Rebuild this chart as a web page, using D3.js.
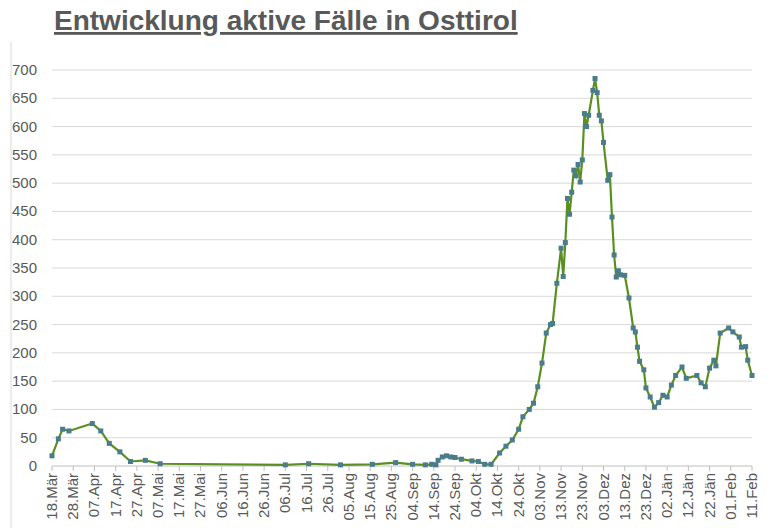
<!DOCTYPE html>
<html><head><meta charset="utf-8">
<script src="https://cdn.jsdelivr.net/npm/d3@7"></script>
<style>body{margin:0;background:#fff}text{font-family:Arial,"Liberation Sans",sans-serif}</style>
</head><body><div class="chart"></div>
<script>
// day offset from 18.Mär 2020 and active cases
const days = [0,3,5,8,19,23,27,32,37,44,51,110,121,136,151,162,170,176,179,181,182,184,186,188,190,193,198,201,
  204,207,211,214,217,220,222,225,227,229,231,233,235,236,238,240,241,242,243,244,245,246,247,248,249,250,251,252,253,
  255,256,257,258,259,260,262,263,264,265,266,267,268,270,272,274,275,276,277,279,280,282,284,286,288,290,292,294,
  297,299,304,306,308,310,312,313,315,319,321,324,325,327,328,330];
const values = [18,48,65,62,75,62,40,25,8,10,4,2,4,2,3,6,3,2,3,2,10,16,18,16,15,12,9,8,
  3,3,23,35,46,65,87,100,111,140,182,235,250,252,323,385,335,395,473,445,484,523,513,533,502,541,623,600,620,
  664,685,660,620,610,572,505,515,440,373,334,345,338,337,297,244,237,210,185,170,138,122,104,112,125,122,143,160,
  175,155,160,147,140,173,187,177,235,244,237,228,210,211,187,160];
const tickLabels = ['18.Mär','28.Mär','07.Apr','17.Apr','27.Apr','07.Mai','17.Mai','27.Mai','06.Jun','16.Jun','26.Jun',
  '06.Jul','16.Jul','26.Jul','05.Aug','15.Aug','25.Aug','04.Sep','14.Sep','24.Sep','04.Okt','14.Okt','24.Okt',
  '03.Nov','13.Nov','23.Nov','03.Dez','13.Dez','23.Dez','02.Jän','12.Jän','22.Jän','01.Feb','11.Feb'];
const yTicks = d3.range(0, 701, 50);

const W = 768, H = 528;
const svg = d3.select('.chart').append('svg').attr('width', W).attr('height', H);

svg.append('text').attr('x', 54).attr('y', 30).attr('font-size', 28).attr('font-weight', 'bold')
  .attr('fill', '#595959').attr('text-decoration', 'underline').text('Entwicklung aktive Fälle in Osttirol');

svg.append('line').attr('x1', 11).attr('x2', 11).attr('y1', 42).attr('y2', 528).attr('stroke', '#d9d9d9');

const x = d3.scaleLinear().domain([0, 330]).range([52, 752]);
const y = d3.scaleLinear().domain([0, 700]).range([466, 70]);

svg.append('g').selectAll('line').data(yTicks.filter(d => d > 0)).enter().append('line')
  .attr('x1', 52).attr('x2', 752).attr('y1', d => y(d)).attr('y2', d => y(d))
  .attr('stroke', '#d9d9d9');

svg.append('g').selectAll('text').data(yTicks).enter().append('text')
  .attr('x', 37).attr('y', d => y(d) + 5).attr('text-anchor', 'end')
  .attr('font-size', 15).attr('fill', '#595959').text(d => d);

svg.append('line').attr('x1', 52).attr('x2', 752).attr('y1', 466).attr('y2', 466).attr('stroke', '#bfbfbf');

const tg = svg.append('g').selectAll('g').data(tickLabels).enter().append('g')
  .attr('transform', (d, i) => `translate(${x(i * 10)},466)`);
tg.append('line').attr('y2', 5).attr('stroke', '#bfbfbf');
tg.append('text').attr('transform', 'rotate(-90)').attr('x', -7).attr('y', 5)
  .attr('text-anchor', 'end').attr('font-size', 15).attr('fill', '#595959').text(d => d);

const pts = days.map((d, i) => [d, values[i]]);
svg.append('path').datum(pts).attr('fill', 'none').attr('stroke', '#5b8f22').attr('stroke-width', 2.2)
  .attr('d', d3.line().x(d => x(d[0])).y(d => y(d[1])));

svg.append('g').selectAll('rect').data(pts).enter().append('rect')
  .attr('x', d => x(d[0]) - 2.5).attr('y', d => y(d[1]) - 2.5).attr('width', 5).attr('height', 5)
  .attr('fill', '#4a7c8c');
</script></body></html>
